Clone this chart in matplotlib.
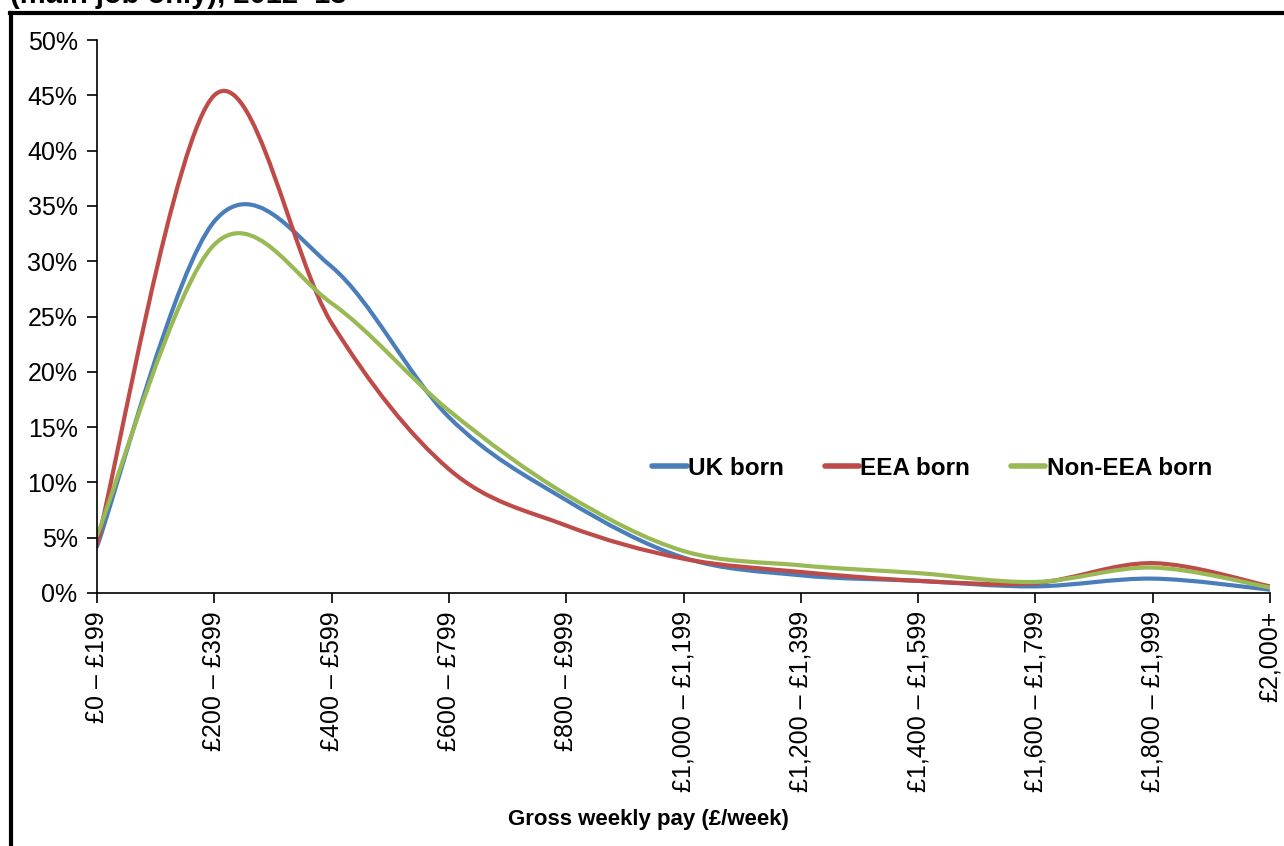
import matplotlib.pyplot as plt
from matplotlib.path import Path
from matplotlib.patches import PathPatch
from matplotlib.lines import Line2D
from matplotlib.ticker import PercentFormatter

plt.rcParams['font.family'] = ['Liberation Sans', 'DejaVu Sans']

# pay bands and shares of employees (%)
bands = ['£0 – £199', '£200 – £399', '£400 – £599', '£600 – £799', '£800 – £999',
         '£1,000 – £1,199', '£1,200 – £1,399', '£1,400 – £1,599', '£1,600 – £1,799',
         '£1,800 – £1,999', '£2,000+']
uk_born = [4.2, 33.6, 29.5, 15.9, 8.4, 3.2, 1.6, 1.1, 0.6, 1.3, 0.3]
eea_born = [4.4, 45.0, 24.4, 11.2, 6.1, 3.1, 1.9, 1.1, 0.9, 2.7, 0.6]
non_eea_born = [5.2, 31.5, 26.2, 16.5, 8.9, 3.8, 2.5, 1.8, 1.0, 2.3, 0.5]

series = [('UK born', uk_born, '#4A7EBB'),
          ('EEA born', eea_born, '#BE4B48'),
          ('Non-EEA born', non_eea_born, '#98B954')]


# excel-like smoothed line: bezier through the points
def smooth_path(ys):
    xs = list(range(len(ys)))
    pts = list(zip(xs, ys))
    verts = [pts[0]]
    codes = [Path.MOVETO]
    n = len(pts)
    for i in range(n - 1):
        p0 = pts[i - 1] if i > 0 else pts[i]
        p1 = pts[i]
        p2 = pts[i + 1]
        p3 = pts[i + 2] if i + 2 < n else pts[i + 1]
        c1 = (p1[0] + (p2[0] - p0[0]) / 6, p1[1] + (p2[1] - p0[1]) / 6)
        c2 = (p2[0] - (p3[0] - p1[0]) / 6, p2[1] - (p3[1] - p1[1]) / 6)
        verts += [c1, c2, p2]
        codes += [Path.CURVE4] * 3
    return Path(verts, codes)


fig = plt.figure(figsize=(12.84, 8.46), dpi=100)
ax = fig.add_axes([97 / 1284, 1 - 593 / 846, (1270 - 97) / 1284, (593 - 40) / 846])

handles = []
for name, vals, col in series:
    patch = PathPatch(smooth_path(vals), facecolor='none', edgecolor=col, lw=3,
                      capstyle='round', joinstyle='round')
    ax.add_patch(patch)
    handles.append(Line2D([], [], color=col, lw=4, solid_capstyle='round', label=name))

ax.set_xlim(0, len(bands) - 1)
ax.set_ylim(0, 50)
ax.set_yticks(range(0, 51, 5))
ax.yaxis.set_major_formatter(PercentFormatter(decimals=0))
ax.set_xticks(range(len(bands)))
ax.set_xticklabels(bands, rotation=90)
ax.tick_params(axis='both', direction='out', length=7, width=1.2, labelsize=18, pad=6)
ax.tick_params(axis='y', pad=7)
for s in ['top', 'right']:
    ax.spines[s].set_visible(False)
for s in ['left', 'bottom']:
    ax.spines[s].set_linewidth(1.2)

ax.set_xlabel('Gross weekly pay (£/week)', fontsize=16, fontweight='bold', labelpad=11)
ax.xaxis.set_label_coords(0.47, -0.39)

leg = ax.legend(handles=handles, loc='center', bbox_to_anchor=(0.712, 0.226), ncol=3,
                frameon=False, handlelength=1.4, handletextpad=0.05, columnspacing=1.7,
                prop={'size': 17.5, 'weight': 'bold'})

# cut-off title and chart frame
fig.text(10 / 1284, 1 - 3 / 846, '(main job only), 2012–13', fontsize=21, fontweight='bold',
         ha='left', va='baseline')
fig.add_artist(Line2D([11.5 / 1284, 11.5 / 1284], [0, 1 - 13.5 / 846], color='black', lw=3))
fig.add_artist(Line2D([10 / 1284, 1], [1 - 13.5 / 846, 1 - 13.5 / 846], color='black', lw=3))

fig.savefig('out.png', dpi=100)
